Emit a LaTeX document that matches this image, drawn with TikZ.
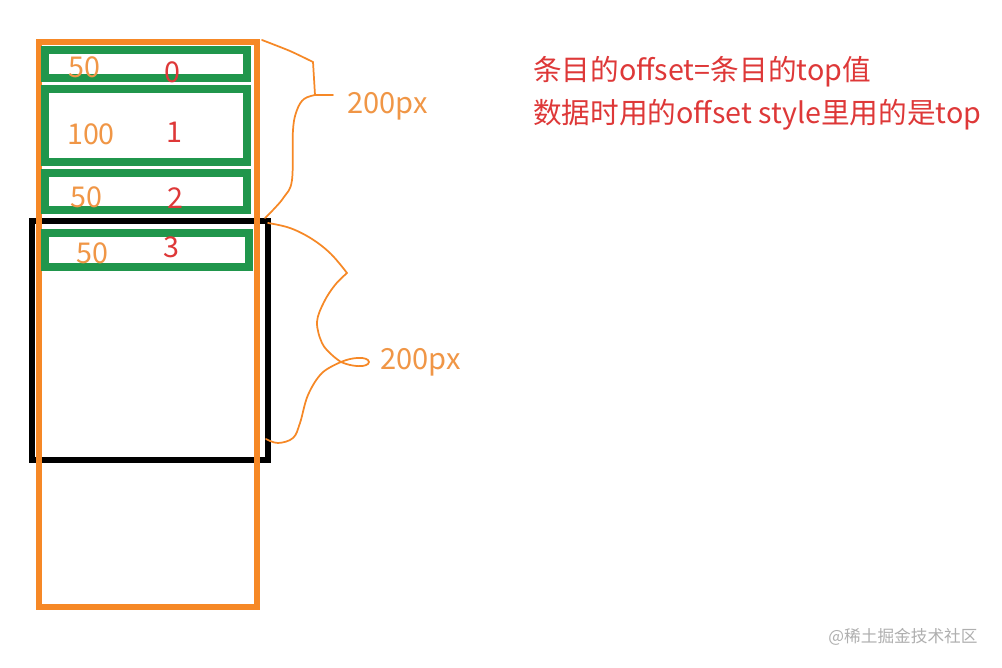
\documentclass[tikz,border=0pt]{standalone}
\usepackage{fontspec}
\setmainfont{Noto Sans CJK SC}
\newfontfamily\cjk{Noto Sans CJK SC}
\definecolor{orng}{RGB}{246,136,38}
\definecolor{orngtxt}{RGB}{240,150,70}
\definecolor{redtxt}{RGB}{222,56,56}
\definecolor{grn}{RGB}{32,150,76}
\definecolor{wm}{RGB}{175,175,175}
\tikzset{
  obox/.style={draw=orng,line width=5.2pt},
  kbox/.style={draw=black,line width=5.2pt},
  gbox/.style={draw=grn,line width=6pt},
  brace/.style={draw=orng,line width=1.3pt,line join=round,line cap=round},
  numlbl/.style={text=orngtxt,font=\fontsize{21.5}{24}\selectfont,inner sep=0pt},
  idxlbl/.style={text=redtxt,font=\fontsize{21.5}{24}\selectfont,inner sep=0pt},
  pxlbl/.style={text=orngtxt,font=\fontsize{21.8}{24}\selectfont,inner sep=0pt,anchor=west},
  note/.style={text=redtxt,font=\fontsize{21.5}{24}\selectfont,inner sep=0pt,anchor=west},
}
\begin{document}
\begin{tikzpicture}[x=0.75pt,y=-0.75pt]
\useasboundingbox[fill=white] (0,0) rectangle (1002,667);
% black viewport
\draw[kbox] (32,221) rectangle (268,460);
% orange list
\draw[obox] (39,42) rectangle (257,607);
% green items
\draw[gbox] (45,50) rectangle (247,78.5);
\draw[gbox] (45,89) rectangle (247,162);
\draw[gbox] (45,173) rectangle (247,210);
\draw[gbox] (45,233) rectangle (249,267);
% labels
\node[numlbl] (h0) at (84,67) {50};
\node[idxlbl] (i0) at (172,72) {0};
\node[numlbl] (h1) at (91,134) {100};
\node[idxlbl] (i1) at (174,132) {1};
\node[numlbl] (h2) at (86,197) {50};
\node[idxlbl] (i2) at (175,198) {2};
\node[numlbl] (h3) at (92,253) {50};
\node[idxlbl] (i3) at (171,247) {3};
% brace 1
\draw[brace] plot[smooth,tension=0.4] coordinates {(262,40) (290,51) (313,62)};
\draw[brace] (313,62) -- (315,95) -- (333,95);
\draw[brace] plot[smooth,tension=0.6] coordinates {(315,95) (304,99) (297,110) (293,130) (292,180) (284,197) (273,210) (265,218)};
\node[pxlbl] (p1) at (347,106) {200px};
% brace 2
\draw[brace] plot[smooth,tension=0.6] coordinates {(268,223) (290,228) (312,239) (331,254) (347,273)};
\draw[brace] plot[smooth,tension=0.6] coordinates {(347,273) (335,285) (324,302) (317,322) (322,343) (332,355) (341,362)};
\draw[brace] (341,362) .. controls (352,357) and (368,356) .. (369,362) .. controls (368,368) and (352,367) .. (341,362);
\draw[brace] plot[smooth,tension=0.6] coordinates {(341,362) (322,373) (308,395) (300,423) (293,438) (278,443) (266,439)};
\node[pxlbl] (p2) at (380,362) {200px};
% notes
\node[note] (n1) at (533,72) {条目的offset=条目的top值};
\node[note] (n2) at (533,115) {数据时用的offset style里用的是top};
% watermark
\node[text=wm,font=\fontsize{12.5}{15}\selectfont,inner sep=0pt] (wmk) at (903,637) {@稀土掘金技术社区};
\end{tikzpicture}
\end{document}
